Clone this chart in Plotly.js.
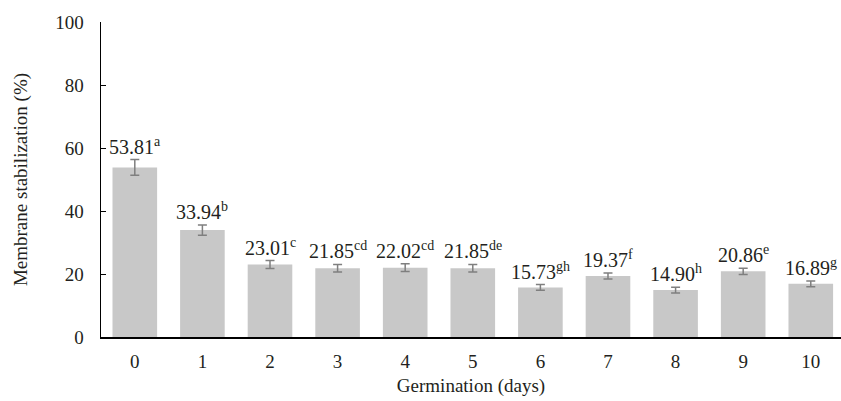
<!DOCTYPE html>
<html>
<head>
<meta charset="utf-8">
<script src="https://cdn.plot.ly/plotly-3.0.1.min.js"></script>
<style>html,body{margin:0;padding:0;background:#fff;}#chart{width:841px;height:401px;}</style>
</head>
<body>
<div id="chart"></div>
<script>
const days = [0, 1, 2, 3, 4, 5, 6, 7, 8, 9, 10];
const values = [53.81, 33.94, 23.01, 21.85, 22.02, 21.85, 15.73, 19.37, 14.90, 20.86, 16.89];
const errors = [2.5, 1.6, 1.25, 1.2, 1.2, 1.2, 0.9, 0.95, 0.9, 1.0, 0.9];
const letters = ['a', 'b', 'c', 'cd', 'cd', 'de', 'gh', 'f', 'h', 'e', 'g'];
const yTicks = [0, 20, 40, 60, 80, 100];

const fontFam = "'Liberation Serif', 'Times New Roman', Times, serif";
const txtColor = '#231f20';

const trace = {
  type: 'bar',
  x: days,
  y: values,
  marker: {color: '#c8c8c8'},
  error_y: {type: 'data', array: errors, visible: true, color: '#7f7f7f', thickness: 1.5, width: 4.5},
  hoverinfo: 'skip'
};

const annotations = days.map((d, i) => ({
  x: d, y: values[i] + errors[i],
  xref: 'x', yref: 'y',
  text: values[i].toFixed(2) + '<sup>' + letters[i] + '</sup>',
  showarrow: false,
  yanchor: 'bottom',
  yshift: 0,
  font: {family: fontFam, size: 20, color: txtColor}
}));

const layout = {
  width: 841, height: 401,
  margin: {l: 101, r: 0, t: 22, b: 64, pad: 0},
  paper_bgcolor: '#fff', plot_bgcolor: '#fff',
  bargap: 0.34,
  showlegend: false,
  font: {family: fontFam, color: txtColor, size: 19},
  xaxis: {
    type: 'linear',
    range: [-0.5, 10.447],
    tickvals: days, ticktext: days.map(String),
    ticks: '', showgrid: false, zeroline: false,
    showline: true, linecolor: '#000', linewidth: 1.5,
    tickfont: {family: fontFam, size: 19, color: txtColor},
    ticklabelstandoff: 7,
    title: {text: 'Germination (days)', font: {family: fontFam, size: 19, color: txtColor}, standoff: 7}
  },
  yaxis: {
    range: [0, 100],
    tickvals: yTicks,
    ticks: 'inside', ticklen: 5, tickcolor: '#000', tickwidth: 1,
    showgrid: false, zeroline: false,
    showline: true, linecolor: '#000', linewidth: 1.5,
    tickfont: {family: fontFam, size: 19, color: txtColor},
    ticklabelstandoff: 12,
    title: {text: 'Membrane stabilization (%)', font: {family: fontFam, size: 19, color: txtColor}, standoff: 22}
  },
  annotations: annotations
};

Plotly.newPlot('chart', [trace], layout, {displayModeBar: false, staticPlot: true});
</script>
</body>
</html>
